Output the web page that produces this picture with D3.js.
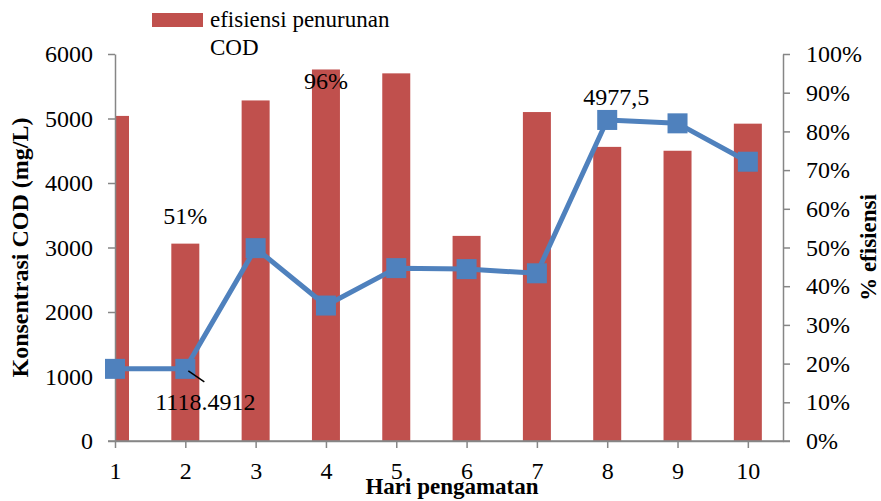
<!DOCTYPE html>
<html><head><meta charset="utf-8">
<script src="https://cdn.jsdelivr.net/npm/d3@7"></script>
<style>body{margin:0;background:#fff}svg{display:block}text{font-family:"Liberation Serif","Times New Roman",serif;fill:#000}</style>
</head><body><svg id="c" width="881" height="501"></svg>
<script>
const days = [1,2,3,4,5,6,7,8,9,10];
const efisiensi = [0.84,0.51,0.88,0.96,0.95,0.53,0.85,0.76,0.75,0.82];
const cod = [1118.4912,1118.4912,2990,2100,2680,2665,2600,4977.5,4925,4330];
const leftTicks = [0,1000,2000,3000,4000,5000,6000];
const rightTicks = [0,0.1,0.2,0.3,0.4,0.5,0.6,0.7,0.8,0.9,1.0];

const svg = d3.select("#c");
const L=115, R=783, T=54, B=441;
const x = d3.scaleLinear().domain([1,10.5]).range([L,R]);
const yL = d3.scaleLinear().domain([0,6000]).range([B,T]);
const yR = d3.scaleLinear().domain([0,1]).range([B,T]);
const barW = 28;
const axisColor = "#868686";
const fs = 24;

svg.append("clipPath").attr("id","clip").append("rect").attr("x",L).attr("y",0).attr("width",R-L).attr("height",B);

// bars
svg.append("g").attr("clip-path","url(#clip)").selectAll("rect").data(days).join("rect")
  .attr("x",d=>x(d)-barW/2).attr("width",barW)
  .attr("y",(d,i)=>yR(efisiensi[i])).attr("height",(d,i)=>B-yR(efisiensi[i]))
  .attr("fill","#C0504D");

// axes
function styleAxis(g){
  g.attr("font-family",null).attr("font-size",null);
  g.select(".domain").attr("stroke",axisColor).attr("stroke-width",1.5);
  g.selectAll(".tick line").attr("stroke",axisColor).attr("stroke-width",1.5);
  g.selectAll(".tick text").style("font-size",fs+"px").style("font-family",'"Liberation Serif",serif').attr("fill","#000");
}
const gl = svg.append("g").attr("transform",`translate(${L},0)`)
  .call(d3.axisLeft(yL).tickValues(leftTicks).tickSize(7).tickSizeOuter(0).tickPadding(15).tickFormat(d3.format("d")));
styleAxis(gl);
const gr = svg.append("g").attr("transform",`translate(${R},0)`)
  .call(d3.axisRight(yR).tickValues(rightTicks).tickSize(7).tickSizeOuter(0).tickPadding(16).tickFormat(d3.format(".0%")));
styleAxis(gr);
const gb = svg.append("g").attr("transform",`translate(0,${B})`)
  .call(d3.axisBottom(x).tickValues(days).tickSize(7).tickSizeOuter(0).tickPadding(14).tickFormat(d3.format("d")));
styleAxis(gb);
svg.append("line").attr("x1",L-7).attr("x2",R+7).attr("y1",B).attr("y2",B).attr("stroke",axisColor).attr("stroke-width",1.5);

// line
svg.append("path").datum(days)
  .attr("d",d3.line().x(d=>x(d)).y((d,i)=>yL(cod[i])))
  .attr("fill","none").attr("stroke","#4F81BD").attr("stroke-width",5).attr("stroke-linejoin","round");
svg.append("g").selectAll("rect").data(days).join("rect")
  .attr("x",d=>x(d)-10).attr("y",(d,i)=>yL(cod[i])-10).attr("width",20).attr("height",20)
  .attr("fill","#4F81BD");

// data labels
svg.append("text").attr("x",x(4)).attr("y",yR(efisiensi[3])+20).attr("text-anchor","middle").style("font-size",fs+"px").text("96%");
svg.append("text").attr("x",x(2)).attr("y",yR(efisiensi[1])-20).attr("text-anchor","middle").style("font-size",fs+"px").text("51%");
svg.append("text").attr("x",x(8)+9).attr("y",yL(cod[7])-15).attr("text-anchor","middle").style("font-size",fs+"px").text("4977,5");
svg.append("line").attr("x1",x(2)+3).attr("y1",yL(cod[1])+2).attr("x2",x(2)+19).attr("y2",yL(cod[1])+13).attr("stroke","#000").attr("stroke-width",1.5);
svg.append("text").attr("x",x(2)+20).attr("y",yL(cod[1])+41).attr("text-anchor","middle").style("font-size",fs+"px").text("1118.4912");

// axis titles
svg.append("text").attr("transform",`translate(28,${(T+B)/2}) rotate(-90)`).attr("text-anchor","middle")
  .style("font-size","24px").style("font-weight","bold").text("Konsentrasi COD (mg/L)");
svg.append("text").attr("transform",`translate(876,${(T+B)/2}) rotate(-90)`).attr("text-anchor","middle")
  .style("font-size","23px").style("font-weight","bold").text("% efisiensi");
svg.append("text").attr("x",452).attr("y",494).attr("text-anchor","middle")
  .style("font-size","23px").style("font-weight","bold").text("Hari pengamatan");

// legend
svg.append("rect").attr("x",152).attr("y",13).attr("width",51).attr("height",14).attr("fill","#C0504D");
svg.append("text").attr("x",210).attr("y",27).style("font-size","23px").text("efisiensi penurunan");
svg.append("text").attr("x",210).attr("y",55).style("font-size","23px").text("COD");
</script></body></html>
